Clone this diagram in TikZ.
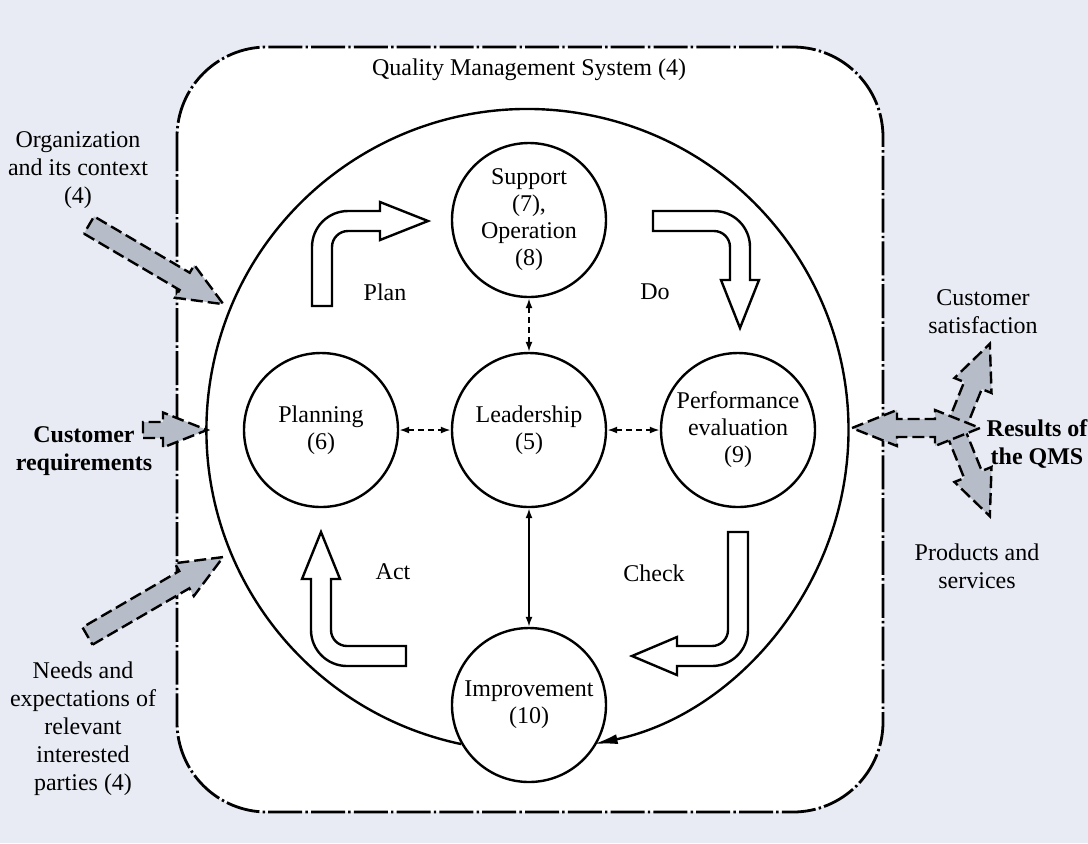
\documentclass[tikz,border=0pt]{standalone}
\usepackage{fontspec}
\setmainfont{Liberation Serif}
\usetikzlibrary{arrows.meta,calc}
\definecolor{bgcol}{RGB}{232,235,243}
\definecolor{arrfill}{RGB}{182,189,200}
\tikzset{
 qms/.style={line width=1.4pt, dash pattern=on 17pt off 1.6pt on 1.2pt off 1.6pt},
 stage/.style={circle, draw, line width=1.2pt, minimum size=77pt, inner sep=0pt, align=center, font=\fontsize{12}{13.5}\selectfont, fill=white},
 fat/.style={draw, fill=arrfill, line width=1.2pt, dash pattern=on 6pt off 2.5pt, line join=miter},
 bent/.style={draw, fill=white, line width=1.2pt, line join=miter},
 lbl/.style={align=center, font=\fontsize{12}{14}\selectfont},
 blbl/.style={align=center, font=\fontsize{12}{14}\selectfont\bfseries},
 link/.style={line width=0.9pt, {Latex[length=5pt,width=3.5pt]}-{Latex[length=5pt,width=3.5pt]}},
 dlink/.style={link, dash pattern=on 3pt off 2pt},
 bigloop/.style={line width=1.2pt, -{Latex[length=12pt,width=5pt]}},
}
\newcommand\qmsarrow[6]{%
 \begin{scope}[shift={#1}, rotate=#2]
 \path[fat] (0,-#4) -- ({#3-#6},-#4) -- ({#3-#6},-#5) -- (#3,0) -- ({#3-#6},#5) -- ({#3-#6},#4) -- (0,#4) -- cycle;
 \end{scope}}
\begin{document}
\begin{tikzpicture}[x=0.5pt,y=0.5pt]
\fill[bgcol] (0,0) rectangle (1088,-843);
\useasboundingbox (0,0) rectangle (1088,-843);
% QMS box
\draw[qms, fill=white, rounded corners=45pt] (177,-47) rectangle (883,-812);
\node[lbl] (tqms) at (529,-70) {Quality Management System (4)};
% stages
\node[stage] (sup) at (529,-220) {Support\\(7),\\Operation\\(8)};
\node[stage] (plan) at (321,-430) {Planning\\(6)};
\node[stage] (lead) at (529,-430) {Leadership\\(5)};
\node[stage] (perf) at (738,-430) {Performance\\evaluation\\(9)};
\node[stage] (impr) at (529,-705) {Improvement\\(10)};
% big loop
\draw[bigloop] (impr.210.6) arc[start angle=258.1, end angle=-78.1, radius=321];
% links
\draw[dlink] (sup) -- (lead);
\draw[dlink] (plan) -- (lead);
\draw[dlink] (lead) -- (perf);
\draw[link] (lead) -- (impr);
% PDCA bent arrows
\path[bent] (312,-306) -- (312,-247) arc[start angle=180,end angle=90,radius=36] -- (380,-211) -- (380,-202) -- (428,-221) -- (380,-240) -- (380,-231) -- (348,-231) arc[start angle=90,end angle=180,radius=16] -- (332,-306) -- cycle;
\path[bent] (653,-211) -- (714,-211) arc[start angle=90,end angle=0,radius=36] -- (750,-280) -- (759,-280) -- (740,-328) -- (721,-280) -- (730,-280) -- (730,-247) arc[start angle=0,end angle=90,radius=16] -- (653,-231) -- cycle;
\path[bent] (406,-646) -- (347,-646) arc[start angle=270,end angle=180,radius=16] -- (331,-579) -- (340,-579) -- (321,-532) -- (302,-579) -- (311,-579) -- (311,-630) arc[start angle=180,end angle=270,radius=36] -- (406,-666) -- cycle;
\path[bent] (728,-532) -- (748,-532) -- (748,-630) arc[start angle=0,end angle=-90,radius=36] -- (677,-666) -- (677,-675) -- (632,-656) -- (677,-637) -- (677,-646) -- (712,-646) arc[start angle=-90,end angle=0,radius=16] -- cycle;
\node[lbl] (tplan) at (385,-292) {Plan};
\node[lbl] (tdo) at (655,-292) {Do};
\node[lbl] (tact) at (393,-572) {Act};
\node[lbl] (tcheck) at (654,-573) {Check};
% inputs
\node[lbl] (torg) at (78,-170) {Organization\\and its context\\(4)};
\node[blbl] (tcust) at (84,-451) {Customer\\requirements};
\node[lbl] (tneeds) at (83,-729) {Needs and\\expectations of\\relevant\\interested\\parties (4)};
\qmsarrow{(89,-225)}{-30.5}{156}{10}{19}{45}
\qmsarrow{(87.5,-636)}{30.2}{157}{10}{19}{45}
\qmsarrow{(143,-430)}{0}{64}{8}{17.5}{44}
% outputs
\node[lbl] (tsat) at (983,-312) {Customer\\satisfaction};
\node[blbl] (tres) at (1037,-444) {Results of\\the QMS};
\node[lbl] (tprod) at (977,-566) {Products and\\services};
\qmsarrow{(955,-430)}{68}{93}{9.5}{20}{45}
\qmsarrow{(955,-430)}{-68}{93}{9.5}{20}{45}
\path[fat] (852,-428) -- (897,-410) -- (897,-419) -- (935,-419) -- (935,-410) -- (980,-428) -- (935,-446) -- (935,-437) -- (897,-437) -- (897,-446) -- cycle;
\end{tikzpicture}
\end{document}
